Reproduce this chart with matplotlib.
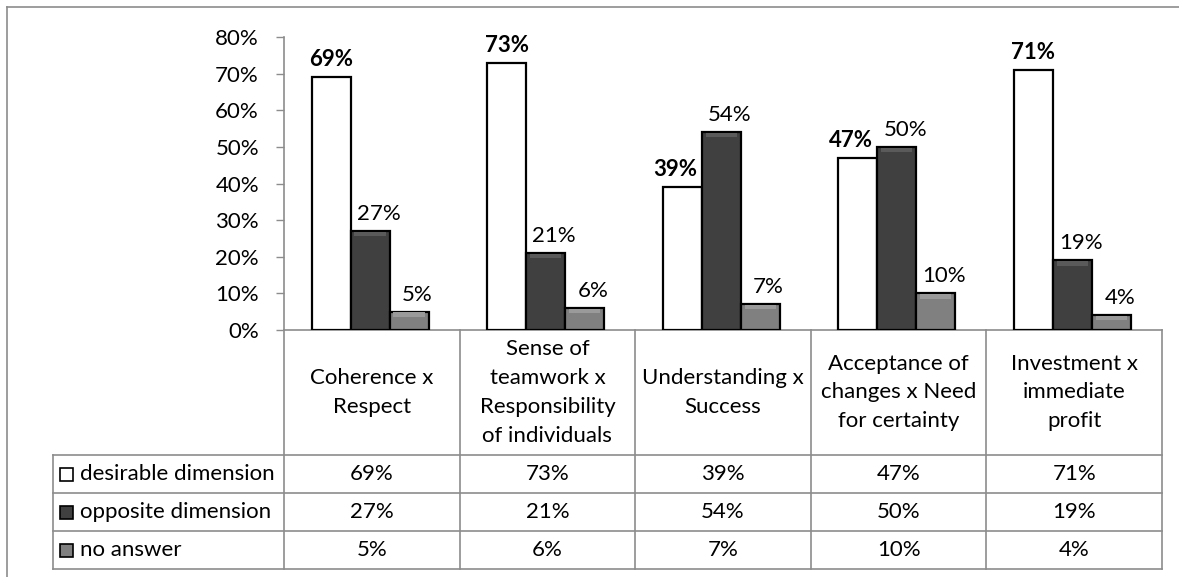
import matplotlib
matplotlib.use("Agg")
import matplotlib.pyplot as plt
from matplotlib.lines import Line2D
from matplotlib.patches import Rectangle
import numpy as np

# data
categories = ["Coherence x\nRespect",
              "Sense of\nteamwork x\nResponsibility\nof individuals",
              "Understanding x\nSuccess",
              "Acceptance of\nchanges x Need\nfor certainty",
              "Investment x\nimmediate\nprofit"]
series_names = ["desirable dimension", "opposite dimension", "no answer"]
desirable = [69, 73, 39, 47, 71]
opposite = [27, 21, 54, 50, 19]
no_answer = [5, 6, 7, 10, 4]
yticks = [0, 10, 20, 30, 40, 50, 60, 70, 80]

series = [desirable, opposite, no_answer]
colors = ["#ffffff", "#404040", "#808080"]
tops = ["#ffffff", "#5a5a5a", "#9a9a9a"]
grid_c = "#8c8c8c"

plt.rcParams['font.family'] = ['Lato', 'DejaVu Sans']
FS = 16

W, H = 1179, 577
fig = plt.figure(figsize=(W / 100, H / 100), dpi=100)

# pixel layout of the plot area
x0, x1, y0, y1 = 284, 1162, 330, 37
ax = fig.add_axes([x0 / W, 1 - y0 / H, (x1 - x0) / W, (y0 - y1) / H])

n = len(categories)
x = np.arange(n)
bw = 0.222
for i, (vals, c) in enumerate(zip(series, colors)):
    xs = x + (i - 1) * bw - 0.01
    ax.bar(xs, [v / 100 for v in vals], width=bw, color=c, edgecolor="black",
           linewidth=1.6, zorder=3)
    # light strip at the top of the bar for the bevel look
    if i > 0:
        ax.bar(xs, [0.012] * n, bottom=[v / 100 - 0.014 for v in vals],
               width=bw * 0.8, color=tops[i], linewidth=0, zorder=4)
    for k, (xi, v) in enumerate(zip(xs, vals)):
        dx = 6 if i > 0 else 0
        # move the label left when the next bar is taller
        if i == 0 and opposite[k] > v:
            dx = -5
        ax.annotate(f"{v}%", (xi, v / 100), xytext=(dx, 5), textcoords="offset points",
                    ha="center", va="bottom", fontsize=FS,
                    fontweight="bold" if i == 0 else "normal")

ax.set_xlim(-0.5, n - 0.5)
ax.set_ylim(0, 0.8)
ax.set_yticks([t / 100 for t in yticks])
ax.set_yticklabels([f"{t}%" for t in yticks], fontsize=FS)
ax.set_xticks([])
ax.tick_params(axis="y", direction="out", length=6, width=1, color=grid_c, pad=12)
for s in ["top", "right"]:
    ax.spines[s].set_visible(False)
for s in ["left", "bottom"]:
    ax.spines[s].set_color(grid_c)
    ax.spines[s].set_linewidth(1.2)

# data table under the axis, in axes fraction units
def fx(px):
    return (px - x0) / (x1 - x0)

def fy(py):
    return (y0 - py) / (y0 - y1)

rows_px = [455, 493, 531, 569]
leg_left = 53
kw = dict(transform=ax.transAxes, color=grid_c, lw=1.2, clip_on=False)
# vertical column lines
for k in range(n + 1):
    xx = fx(x0 + k * (x1 - x0) / n)
    ax.plot([xx, xx], [0, fy(rows_px[-1])], **kw)
ax.plot([fx(leg_left), fx(leg_left)], [fy(rows_px[0]), fy(rows_px[-1])], **kw)
for r in rows_px:
    ax.plot([fx(leg_left), 1], [fy(r), fy(r)], **kw)

# category headers
for k, cat in enumerate(categories):
    ax.text(fx(x0 + (k + 0.5) * (x1 - x0) / n), fy((y0 + rows_px[0]) / 2), cat,
            transform=ax.transAxes, ha="center", va="center", fontsize=FS,
            linespacing=1.55)

# rows
for r, (name, vals, c) in enumerate(zip(series_names, series, colors)):
    ym = (rows_px[r] + rows_px[r + 1]) / 2
    ax.add_patch(Rectangle((fx(60), fy(ym + 6.5)), 13 / (x1 - x0), 13 / (y0 - y1),
                           transform=ax.transAxes, facecolor=c, edgecolor="black",
                           lw=1.2, clip_on=False))
    ax.text(fx(80), fy(ym), name, transform=ax.transAxes, ha="left", va="center",
            fontsize=FS)
    for k, v in enumerate(vals):
        ax.text(fx(x0 + (k + 0.5) * (x1 - x0) / n), fy(ym), f"{v}%",
                transform=ax.transAxes, ha="center", va="center", fontsize=FS)

# outer chart border (left and top)
fig.add_artist(Line2D([7 / W, 7 / W], [0, 1 - 7 / H], color=grid_c, lw=1.2))
fig.add_artist(Line2D([7 / W, 1], [1 - 7 / H, 1 - 7 / H], color=grid_c, lw=1.2))

fig.savefig("out.png", dpi=100)
